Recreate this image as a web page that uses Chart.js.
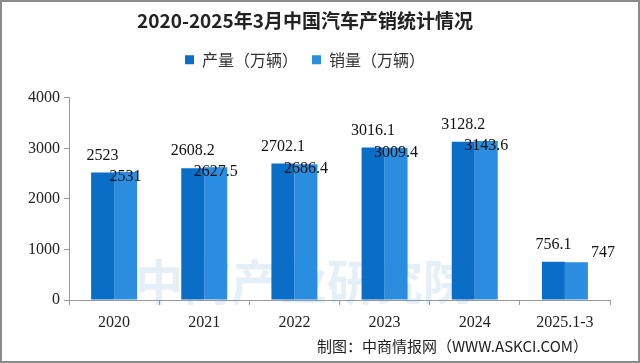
<!DOCTYPE html>
<html>
<head>
<meta charset="utf-8">
<script src="https://cdn.jsdelivr.net/npm/chart.js@4.4.1/dist/chart.umd.min.js"></script>
<style>
	body { margin: 0; background: #fff; }
	#wrap { width: 640px; height: 363px; position: relative; }
</style>
</head>
<body>
<div id="wrap"><canvas id="myChart" width="640" height="363"></canvas></div>
<script>
// 数据
const years = ['2020', '2021', '2022', '2023', '2024', '2025.1-3'];
const production = [2523, 2608.2, 2702.1, 3016.1, 3128.2, 756.1]; // 产量（万辆）
const sales = [2531, 2627.5, 2686.4, 3009.4, 3143.6, 747]; // 销量（万辆）
const yTicks = [0, 1000, 2000, 3000, 4000];

const numFont = '"Liberation Serif", serif';
const cjkFont = '"Noto Sans CJK SC", sans-serif';

// 边框 + 水印 + 数值标签 + 来源
const decoPlugin = {
	id: 'deco',
	beforeLayout(chart) {
		// 图例下方多留一点空白
		const lg = chart.legend;
		if (lg && !lg._patched) {
			const fit = lg.fit;
			lg.fit = function() {
				fit.call(this);
				this.height += 20;
			};
			lg._patched = true;
		}
	},
	beforeDraw(chart) {
		const ctx = chart.ctx;
		ctx.save();
		ctx.fillStyle = '#fff';
		ctx.fillRect(0, 0, chart.width, chart.height);
		ctx.restore();
	},
	beforeDatasetsDraw(chart) {
		const ctx = chart.ctx;
		ctx.save();
		ctx.font = 'bold 48px ' + cjkFont;
		ctx.fillStyle = 'rgba(91,155,213,0.16)';
		ctx.textAlign = 'left';
		ctx.textBaseline = 'middle';
		ctx.fillText('中商产业研究院', 135, 282);
		ctx.restore();
	},
	afterDatasetsDraw(chart) {
		const ctx = chart.ctx;
		ctx.save();
		ctx.font = '16px ' + numFont;
		ctx.fillStyle = '#111';
		ctx.textBaseline = 'middle';
		chart.getDatasetMeta(0).data.forEach((bar, i) => {
			ctx.textAlign = 'center';
			ctx.fillText(String(production[i]), bar.x, bar.y - 17);
		});
		const m1 = chart.getDatasetMeta(1).data;
		m1.forEach((bar, i) => {
			if (i === m1.length - 1) {
				ctx.textAlign = 'left';
				ctx.fillText(String(sales[i]), bar.x + bar.width / 2 + 3, bar.y - 9);
			} else {
				ctx.textAlign = 'center';
				ctx.fillText(String(sales[i]), bar.x, bar.y + 5);
			}
		});
		ctx.restore();
	},
	afterDraw(chart) {
		const ctx = chart.ctx;
		ctx.save();
		ctx.font = '15px ' + cjkFont;
		ctx.fillStyle = '#222';
		ctx.textAlign = 'right';
		ctx.textBaseline = 'middle';
		ctx.fillText('制图：中商情报网（WWW.ASKCI.COM）', 588, 346);
		ctx.strokeStyle = '#8c8c8c';
		ctx.lineWidth = 2;
		ctx.strokeRect(1, 1, chart.width - 2, chart.height - 2);
		ctx.restore();
	}
};

var ctx = document.getElementById('myChart').getContext('2d');
new Chart(ctx, {
	type: 'bar',
	data: {
		labels: years,
		datasets: [
			{
				label: '产量（万辆）',
				data: production,
				backgroundColor: '#0b6ec6',
				categoryPercentage: 0.51,
				barPercentage: 1.0,
			},
			{
				label: '销量（万辆）',
				data: sales,
				backgroundColor: '#2b8de0',
				categoryPercentage: 0.51,
				barPercentage: 1.0,
			},
		],
	},
	options: {
		responsive: false,
		animation: false,
		devicePixelRatio: 1,
		layout: { padding: { top: 0, left: 0, right: 30, bottom: 27 } },
		plugins: {
			title: {
				display: true,
				text: '2020-2025年3月中国汽车产销统计情况',
				color: '#222',
				font: { family: cjkFont, size: 19, weight: 'bold' },
				padding: { top: 9, bottom: 6 },
			},
			legend: {
				display: true,
				labels: {
					color: '#333',
					font: { family: cjkFont, size: 16 },
					boxWidth: 9,
					boxHeight: 9,
					padding: 14,
				},
			},
			tooltip: { enabled: false },
		},
		scales: {
			x: {
				grid: {
					display: true,
					drawOnChartArea: false,
					offset: true,
					tickLength: 5,
					color: '#999',
				},
				border: { color: '#999' },
				ticks: { color: '#222', font: { family: numFont, size: 16 }, padding: 8 },
				afterFit(scale) { scale.height = 36; },
			},
			y: {
				min: 0,
				max: 4000,
				afterBuildTicks(scale) { scale.ticks = yTicks.map(v => ({ value: v })); },
				grid: {
					display: true,
					drawOnChartArea: false,
					tickLength: 5,
					color: '#999',
				},
				border: { color: '#999' },
				ticks: {
					color: '#222',
					font: { family: numFont, size: 16 },
					padding: 4,
					callback: v => String(v),
				},
				afterFit(scale) { scale.width = 69; },
			},
		},
	},
	plugins: [decoPlugin],
});
</script>
</body>
</html>
